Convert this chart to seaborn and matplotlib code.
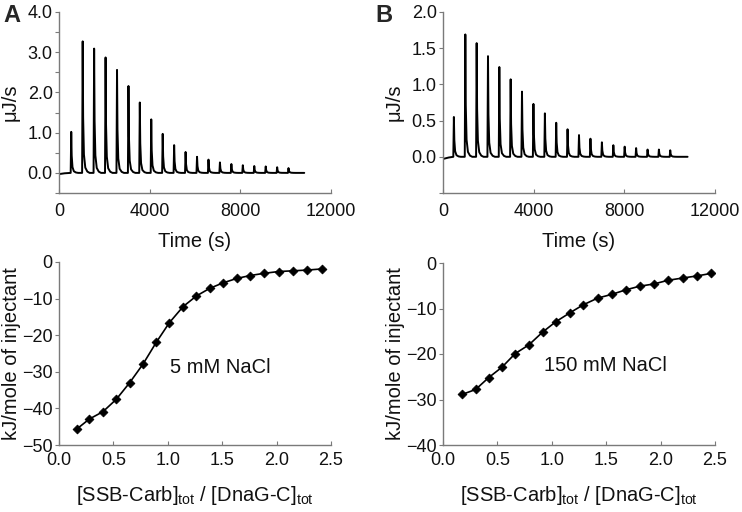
import numpy as np
import pandas as pd
import matplotlib
matplotlib.use("Agg")
import matplotlib.pyplot as plt
import seaborn as sns

# ---------------- data ----------------
# Panel A thermogram (5 mM NaCl): injection times (s) and peak heights (uJ/s)
inj_times_a = [515, 1020, 1525, 2030, 2535, 3040, 3540, 4045, 4550, 5055,
               5560, 6065, 6570, 7075, 7580, 8085, 8590, 9095, 9600, 10100]
peaks_a = [1.02, 3.27, 3.09, 2.87, 2.56, 2.16, 1.75, 1.33, 0.97, 0.69,
           0.52, 0.40, 0.33, 0.26, 0.22, 0.19, 0.17, 0.16, 0.14, 0.12]
end_time_a = 10820

# Panel B thermogram (150 mM NaCl)
inj_times_b = [455, 960, 1460, 1960, 2460, 2960, 3460, 3965, 4470, 4970,
               5470, 5975, 6480, 6985, 7490, 7990, 8495, 9000, 9500, 10000]
peaks_b = [0.55, 1.69, 1.57, 1.39, 1.24, 1.07, 0.90, 0.73, 0.60, 0.47,
           0.38, 0.30, 0.25, 0.20, 0.16, 0.14, 0.12, 0.10, 0.10, 0.09]
end_time_b = 10790

# Peak shape template (offset in s, fraction of peak height)
shape_offsets = [0, 25, 45, 80, 140, 230, 330]
shape_fracs = [0.0, 1.0, 0.42, 0.14, 0.04, 0.01, 0.0]

# Binding isotherms: molar ratio and heat (kJ/mol of injectant)
ratio_a = [0.165, 0.279, 0.404, 0.527, 0.649, 0.772, 0.895, 1.014, 1.140, 1.262,
           1.385, 1.508, 1.633, 1.756, 1.884, 2.019, 2.154, 2.282, 2.414]
heat_a = [-45.6, -42.9, -40.9, -37.5, -33.0, -27.9, -21.9, -16.6, -12.2, -9.3,
          -7.2, -5.7, -4.5, -3.7, -3.1, -2.6, -2.4, -2.2, -1.9]

ratio_b = [0.174, 0.300, 0.419, 0.542, 0.664, 0.789, 0.915, 1.037, 1.163, 1.288,
           1.423, 1.551, 1.680, 1.808, 1.940, 2.068, 2.203, 2.332, 2.463]
heat_b = [-28.9, -27.8, -25.2, -22.9, -19.9, -18.0, -15.2, -12.9, -11.0, -9.2,
          -7.7, -6.9, -5.9, -5.1, -4.6, -3.8, -3.3, -2.85, -2.3]

labels = ["5 mM NaCl", "150 mM NaCl"]


def build_trace(times, heights, t_end):
    t = [0.0, 250.0]
    y = [-0.03, -0.01]
    for t0, h in zip(times, heights):
        for off, fr in zip(shape_offsets, shape_fracs):
            t.append(t0 + off)
            y.append(h * fr)
    t.append(t_end)
    y.append(0.0)
    return pd.DataFrame({"time": t, "power": y})


# ---------------- style ----------------
sns.set_style("ticks")
plt.rcParams["font.family"] = ["Liberation Sans", "DejaVu Sans"]
plt.rcParams["mathtext.default"] = "regular"

W, H = 742, 512
fig = plt.figure(figsize=(W / 100, H / 100), dpi=100)


def ax_at(l, t, r, b):
    return fig.add_axes([l / W, 1 - b / H, (r - l) / W, (b - t) / H])


axA = ax_at(59, 12, 331, 193)
axB = ax_at(443, 12, 715, 193)
axC = ax_at(59, 262, 331, 445)
axD = ax_at(443, 263, 715, 445)

spine_col = "#7a7a7a"
tick_fs = 13
lab_fs = 14.5
txt_col = "#111111"

for ax in (axA, axB, axC, axD):
    for s in ("top", "right"):
        ax.spines[s].set_visible(False)
    for s in ("left", "bottom"):
        ax.spines[s].set_color(spine_col)
        ax.spines[s].set_linewidth(1.0)
    ax.tick_params(axis="y", which="both", direction="out", length=3, width=0.8,
                   color=spine_col, labelsize=tick_fs, pad=1.5, labelcolor=txt_col)
    ax.tick_params(axis="x", which="both", direction="in", length=3, width=0.8,
                   color=spine_col, labelsize=tick_fs, pad=7, labelcolor=txt_col)

# thermograms
for ax, times, heights, t_end, ymax, ystep in (
        (axA, inj_times_a, peaks_a, end_time_a, 4.0, 1.0),
        (axB, inj_times_b, peaks_b, end_time_b, 2.0, 0.5)):
    df = build_trace(times, heights, t_end)
    sns.lineplot(data=df, x="time", y="power", ax=ax, color="black",
                 linewidth=1.4, sort=False, estimator=None)
    ax.set_xlim(0, 12000)
    ax.set_ylim(-0.5, ymax)
    ax.set_xticks([0, 4000, 8000, 12000])
    ax.set_yticks(np.arange(0, ymax + 1e-9, ystep))
    ax.set_yticks(np.arange(-0.5, ymax + 1e-9, 0.5), minor=True)
    ax.set_yticklabels([f"{v:.1f}" for v in np.arange(0, ymax + 1e-9, ystep)])
    ax.set_xlabel("Time (s)", fontsize=lab_fs, labelpad=9, color=txt_col)
    ax.set_ylabel("\u03bcJ/s", fontsize=lab_fs, labelpad=6, color=txt_col)

# isotherms
for ax, rx, hy, ymin, lab, lx, ly in (
        (axC, ratio_a, heat_a, -50, labels[0], 1.02, -28.7),
        (axD, ratio_b, heat_b, -40, labels[1], 0.93, -22.6)):
    df = pd.DataFrame({"ratio": rx, "heat": hy})
    sns.lineplot(data=df, x="ratio", y="heat", ax=ax, color="black",
                 linewidth=1.2, sort=True, estimator=None)
    sns.scatterplot(data=df, x="ratio", y="heat", ax=ax, color="black",
                    marker="D", s=20, edgecolor="black", linewidth=0.6, zorder=3)
    ax.set_xlim(0, 2.5)
    ax.set_ylim(ymin, 0)
    ax.set_xticks(np.arange(0, 2.51, 0.5))
    ax.set_xticklabels([f"{v:.1f}" for v in np.arange(0, 2.51, 0.5)])
    ax.set_yticks(np.arange(ymin, 1, 10))
    ax.tick_params(axis="x", pad=5)
    ax.set_xlabel("[SSB-Carb]$_{tot}$ / [DnaG-C]$_{tot}$", fontsize=lab_fs,
                  labelpad=11, color=txt_col)
    ax.set_ylabel("kJ/mole of injectant", fontsize=lab_fs, labelpad=1, color=txt_col)
    ax.text(lx, ly, lab, fontsize=lab_fs, va="center", ha="left", color=txt_col)

fig.text(3 / W, 1 - 15 / H, "A", fontsize=17, fontweight="bold", va="center", ha="left")
fig.text(375 / W, 1 - 15 / H, "B", fontsize=17, fontweight="bold", va="center", ha="left")

fig.savefig("out.png", dpi=100)
